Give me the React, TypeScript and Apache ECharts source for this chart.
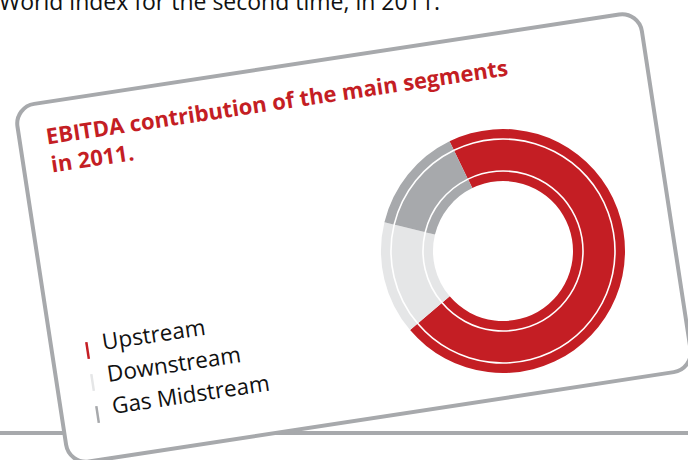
import React, { useEffect, useRef } from "react";
import * as echarts from "echarts";

const categories = ["Upstream", "Downstream", "Gas Midstream"];
const values = [71, 15, 14];
const colors = ["#c41e24", "#e5e6e7", "#a7a9ac"];
const titleLines = ["EBITDA contribution of the main segments", "in 2011."];
const headerText = "World index for the second time, in 2011.";

const DEG = Math.PI / 180;

export default function App() {
  const ref = useRef<HTMLDivElement>(null);
  useEffect(() => {
    if (!ref.current) return;
    const chart = echarts.init(ref.current, null, { renderer: "svg" });
    const data = categories.map((name, i) => ({ name, value: values[i], itemStyle: { color: colors[i] } }));
    const center = [503, 251];
    const ringRadii = [
      [70, 79.2],
      [80.8, 111.2],
      [112.8, 122],
    ];
    const rot = 8.7 * DEG;
    const trot = 8.5 * DEG;
    const s = Math.sin(trot);
    const c = Math.cos(trot);
    // place text by its baseline start point (top-aligned text, offset by ~0.8 * font size)
    const rtext = (text: string, bx: number, by: number, size: number, bold: boolean, fill: string) => {
      const d = 0.8 * size;
      return {
        type: "text", z: 3, x: bx - d * s, y: by - d * c, rotation: trot,
        style: { text, font: `${bold ? "bold " : ""}${size}px 'Open Sans'`, fill, verticalAlign: "top", align: "left" },
      };
    };
    const legendBase: [number, number][] = [[103, 348], [108, 380], [113, 412]];
    const graphic: any[] = [
      { type: "line", z: 0, shape: { x1: 0, y1: 433, x2: 688, y2: 433 }, style: { stroke: "#a7a9ac", lineWidth: 4 } },
      {
        type: "rect", z: 1, x: 354, y: 238, rotation: rot,
        shape: { x: -316, y: -181, width: 632, height: 362, r: 20 },
        style: { fill: "#ffffff", stroke: "#a7a9ac", lineWidth: 4 },
      },
      {
        type: "text", z: 3, x: -1, y: 8 - 0.8 * 23,
        style: { text: headerText, font: "23px 'Open Sans'", fill: "#111", verticalAlign: "top", align: "left" },
      },
      rtext(titleLines[0], 47, 142, 22, true, "#c41e24"),
      rtext(titleLines[1], 52, 170, 22, true, "#c41e24"),
    ];
    categories.forEach((name, i) => {
      const [bx, by] = legendBase[i];
      graphic.push(rtext(name, bx, by, 22.5, false, "#111"));
      graphic.push({
        type: "line", z: 3, x: bx - 15.5, y: by + 2, rotation: trot,
        shape: { x1: 0, y1: -8, x2: 0, y2: 9 },
        style: { stroke: colors[i], lineWidth: 2.5 },
      });
    });
    chart.setOption({
      animation: false,
      backgroundColor: "#ffffff",
      graphic,
      series: ringRadii.map((r) => ({
        type: "pie",
        z: 2,
        center,
        radius: r,
        startAngle: 116,
        clockwise: true,
        silent: true,
        label: { show: false },
        labelLine: { show: false },
        itemStyle: { borderWidth: 0 },
        data,
      })),
    });
    return () => chart.dispose();
  }, []);
  return <div ref={ref} style={{ position: "absolute", left: 0, top: 0, width: 688, height: 460 }} />;
}
